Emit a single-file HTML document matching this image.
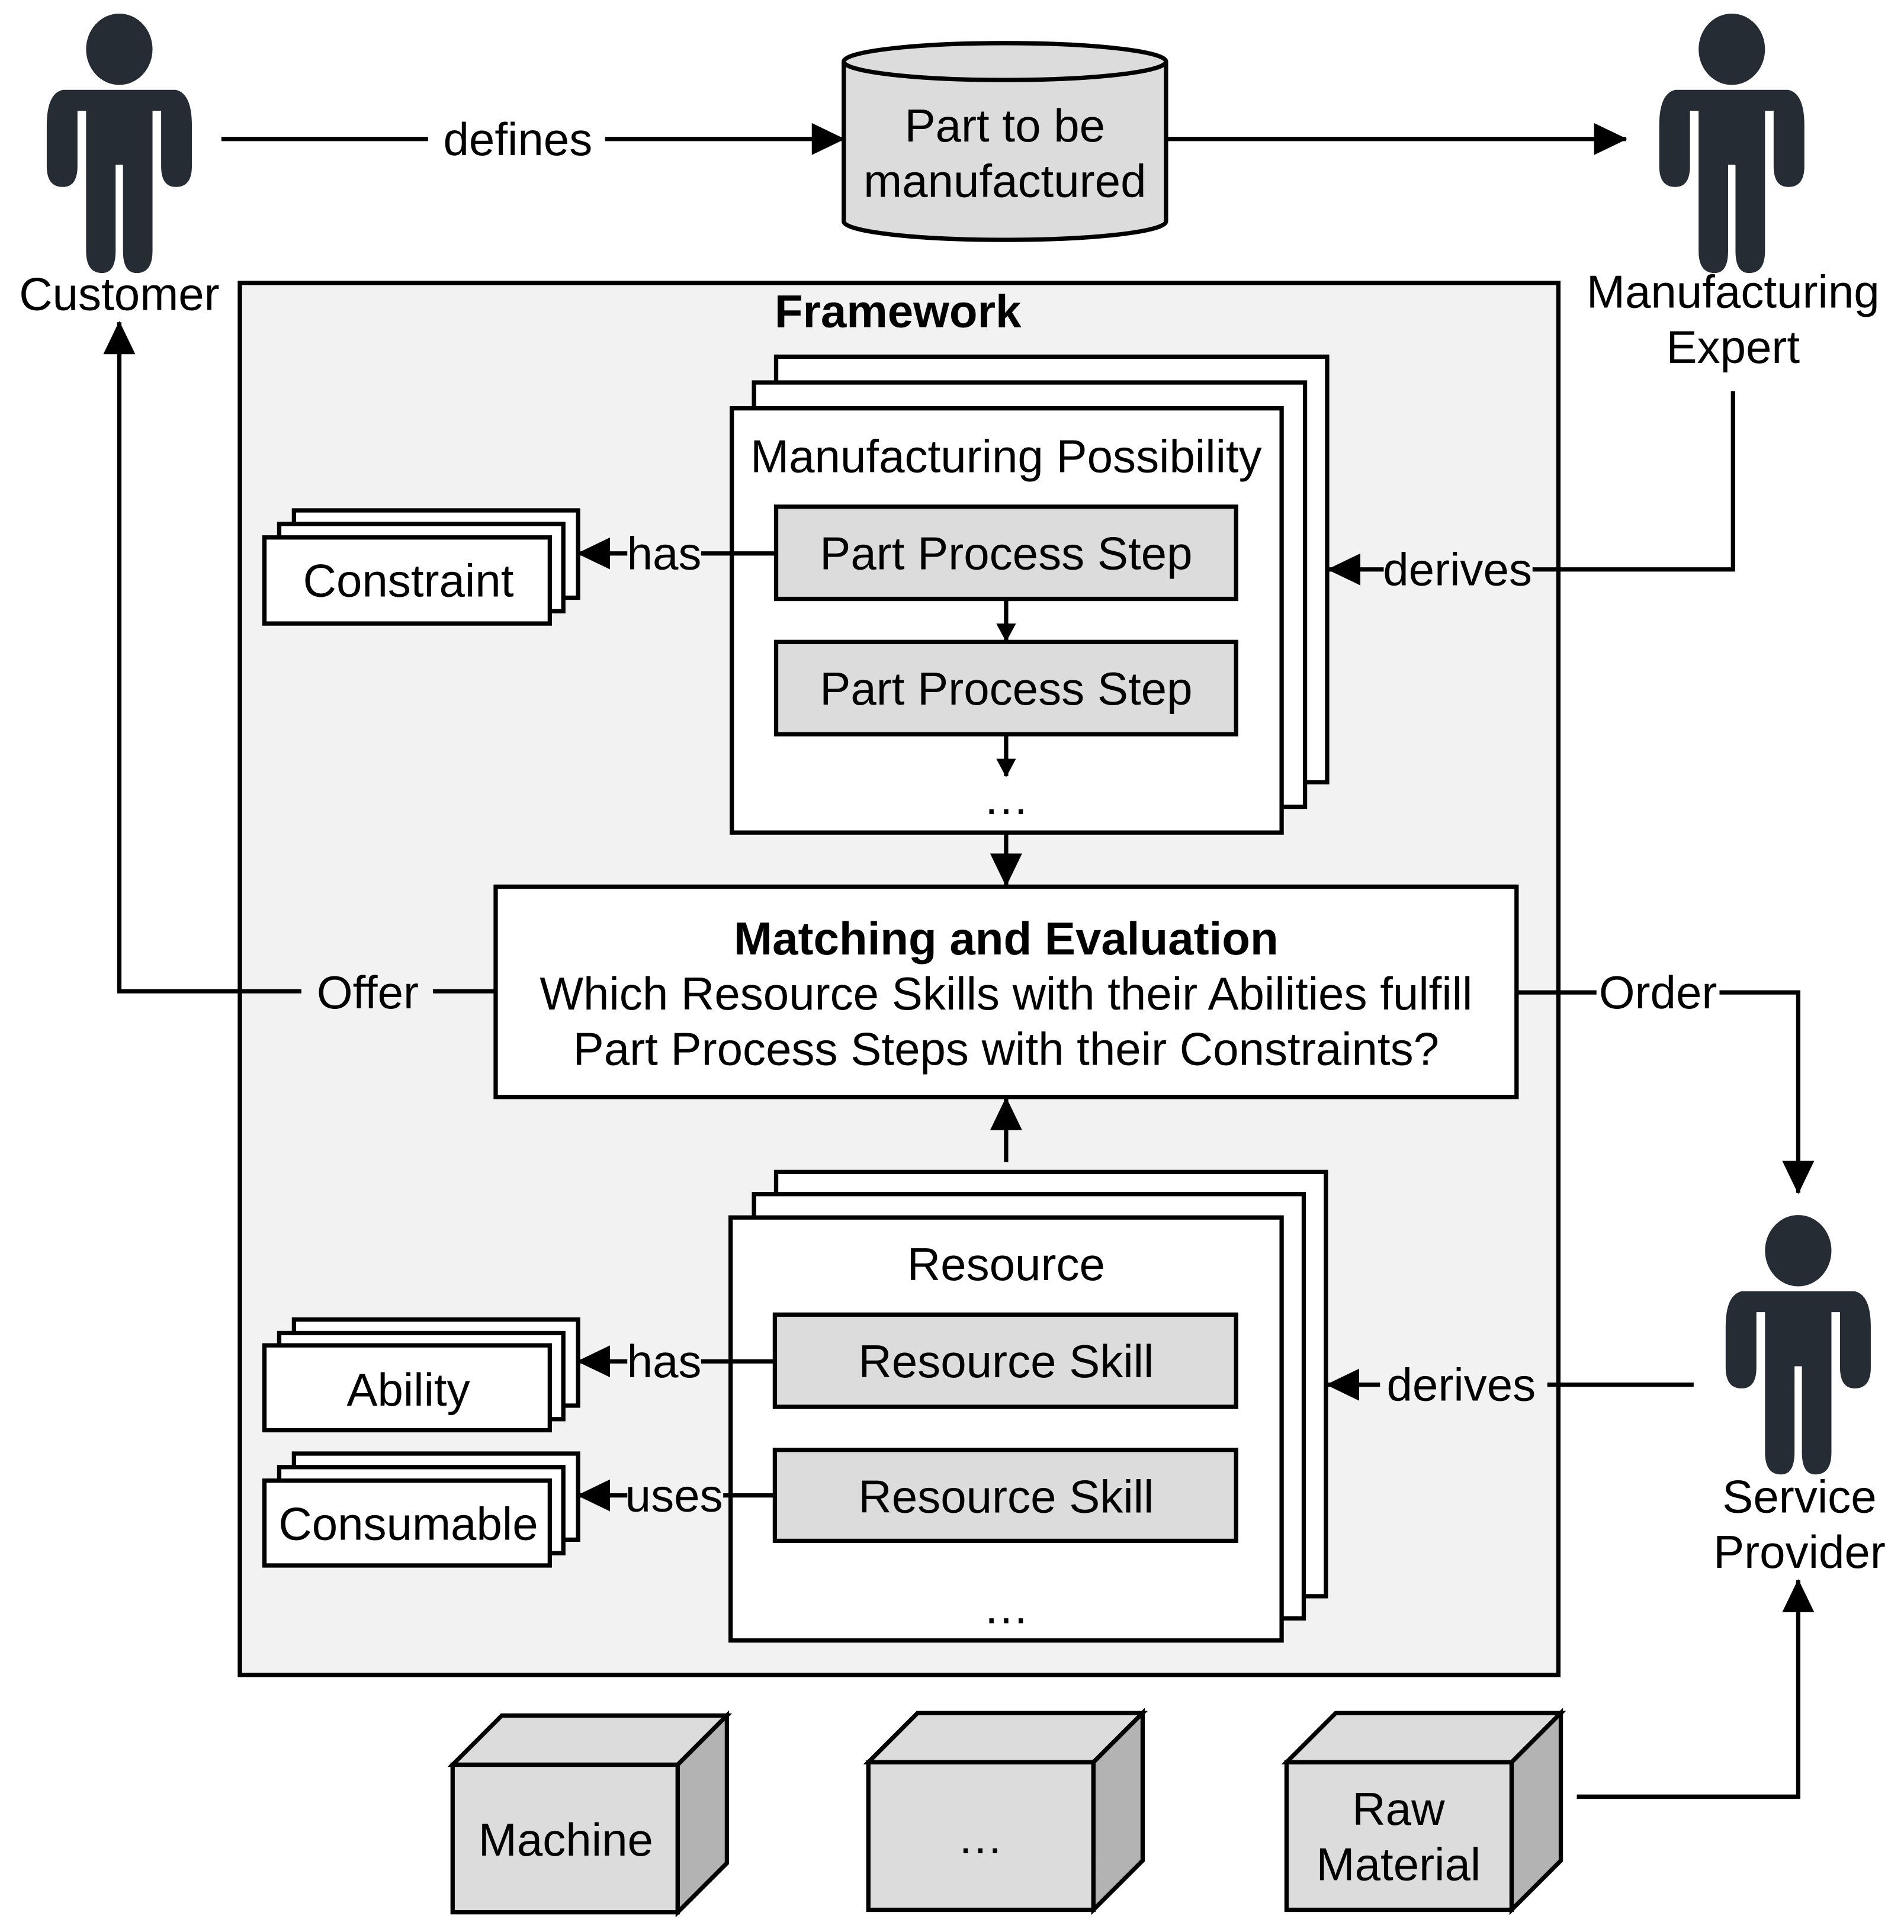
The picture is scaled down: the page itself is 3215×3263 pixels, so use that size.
<!DOCTYPE html>
<html><head><meta charset="utf-8"><style>html,body{margin:0;padding:0;background:#fff}svg{display:block}</style></head>
<body>
<svg width="3215" height="3263" viewBox="0 0 1548 1571" xmlns="http://www.w3.org/2000/svg" font-family="'Liberation Sans', Arial, sans-serif" font-size="37.6" text-anchor="middle">
<defs>
<marker id="a" markerUnits="userSpaceOnUse" markerWidth="30" markerHeight="26" refX="26" refY="13" orient="auto"><path d="M0,0 L27,13 L0,26 Z" fill="#000"/></marker>
<marker id="s" markerUnits="userSpaceOnUse" markerWidth="18" markerHeight="18" refX="14" refY="8" orient="auto"><path d="M0,0 L15,8 L0,16 Z" fill="#000"/></marker>
<g id="p" fill="#262c33">
<ellipse cx="0" cy="0" rx="27" ry="29"/>
<path d="M-46,33 H46 Q59,36 59,62 V95 Q59,112 46,112 Q34,112 34,95 V50 H27 V164 Q27,182 14,182 Q3,182 3,164 V94 H-3 V164 Q-3,182 -14,182 Q-27,182 -27,164 V50 H-34 V95 Q-34,112 -46,112 Q-59,112 -59,95 V62 Q-59,36 -46,33 Z"/>
</g>
</defs>
<g stroke="#000" stroke-width="3.5" fill="none">
<rect x="195" y="230" width="1072" height="1132" fill="#f2f2f2"/>
</g>
<use href="#p" x="97" y="40"/>
<use href="#p" x="1408" y="40"/>
<use href="#p" x="1462" y="1017"/>
<text x="97" y="252">Customer</text>
<text x="1409" y="250">Manufacturing</text>
<text x="1409" y="295">Expert</text>
<text x="1463" y="1230">Service</text>
<text x="1463" y="1275">Provider</text>
<g stroke="#000" stroke-width="3.5" fill="none">
<line x1="180" y1="113" x2="348" y2="113"/>
<line x1="492" y1="113" x2="686" y2="113" marker-end="url(#a)"/>
<line x1="948" y1="113" x2="1322" y2="113" marker-end="url(#a)"/>
<path d="M686,50 V180 A131,15 0 0 0 948,180 V50" fill="#dcdcdc"/>
<ellipse cx="817" cy="50" rx="131" ry="15" fill="#dcdcdc"/>
<polyline points="245,806 97,806 97,262" marker-end="url(#a)"/>
<line x1="352" y1="806" x2="403" y2="806"/>
<rect x="631" y="290" width="448" height="346" fill="#fff"/>
<rect x="613" y="311" width="448" height="345" fill="#fff"/>
<rect x="595" y="332" width="447" height="345" fill="#fff"/>
<rect x="631" y="412" width="374" height="75" fill="#dcdcdc"/>
<rect x="631" y="522" width="374" height="75" fill="#dcdcdc"/>
<line x1="818" y1="487" x2="818" y2="521" marker-end="url(#s)"/>
<line x1="818" y1="597" x2="818" y2="631" marker-end="url(#s)"/>
<line x1="818" y1="677" x2="818" y2="720" marker-end="url(#a)"/>
<rect x="239" y="415" width="231" height="71" fill="#fff"/>
<rect x="227" y="426" width="231" height="71" fill="#fff"/>
<rect x="215" y="437" width="232" height="70" fill="#fff"/>
<line x1="570" y1="450" x2="631" y2="450"/>
<line x1="510" y1="450" x2="470" y2="450" marker-end="url(#a)"/>
<polyline points="1409,318 1409,463 1246,463"/>
<line x1="1125" y1="463" x2="1080" y2="463" marker-end="url(#a)"/>
<rect x="403" y="721" width="830" height="171" fill="#fff"/>
<line x1="1233" y1="807" x2="1298" y2="807"/>
<polyline points="1398,807 1462,807 1462,970" marker-end="url(#a)"/>
<line x1="818" y1="945" x2="818" y2="893" marker-end="url(#a)"/>
<rect x="631" y="953" width="447" height="345" fill="#fff"/>
<rect x="613" y="971" width="447" height="345" fill="#fff"/>
<rect x="594" y="990" width="448" height="344" fill="#fff"/>
<rect x="630" y="1069" width="375" height="75" fill="#dcdcdc"/>
<rect x="630" y="1179" width="375" height="74" fill="#dcdcdc"/>
<rect x="239" y="1073" width="231" height="70" fill="#fff"/>
<rect x="227" y="1084" width="231" height="70" fill="#fff"/>
<rect x="215" y="1094" width="232" height="69" fill="#fff"/>
<rect x="239" y="1182" width="231" height="70" fill="#fff"/>
<rect x="227" y="1193" width="231" height="70" fill="#fff"/>
<rect x="215" y="1204" width="232" height="69" fill="#fff"/>
<line x1="570" y1="1107" x2="630" y2="1107"/>
<line x1="510" y1="1107" x2="470" y2="1107" marker-end="url(#a)"/>
<line x1="588" y1="1216" x2="630" y2="1216"/>
<line x1="510" y1="1216" x2="470" y2="1216" marker-end="url(#a)"/>
<line x1="1377" y1="1126" x2="1258" y2="1126"/>
<line x1="1122" y1="1126" x2="1079" y2="1126" marker-end="url(#a)"/>
<polyline points="1282,1461 1462,1461 1462,1285" marker-end="url(#a)"/>
<g fill="#dcdcdc">
<rect x="368" y="1435" width="183" height="120"/>
<path d="M368,1435 L408,1395 H591 L551,1435 Z"/>
<path d="M551,1435 L591,1395 V1515 L551,1555 Z" fill="#b3b3b3"/>
<rect x="706" y="1433" width="183" height="120"/>
<path d="M706,1433 L746,1393 H929 L889,1433 Z"/>
<path d="M889,1433 L929,1393 V1513 L889,1553 Z" fill="#b3b3b3"/>
<rect x="1046" y="1433" width="183" height="120"/>
<path d="M1046,1433 L1086,1393 H1269 L1229,1433 Z"/>
<path d="M1229,1433 L1269,1393 V1513 L1229,1553 Z" fill="#b3b3b3"/>
</g>
</g>
<text x="421" y="126">defines</text>
<text x="817" y="115">Part to be</text>
<text x="817" y="160">manufactured</text>
<text x="730" y="266" font-weight="bold">Framework</text>
<text x="299" y="820">Offer</text>
<text x="818" y="384">Manufacturing Possibility</text>
<text x="818" y="463">Part Process Step</text>
<text x="818" y="573">Part Process Step</text>
<text x="818" y="662">…</text>
<text x="332" y="485">Constraint</text>
<text x="540" y="463">has</text>
<text x="1185" y="476">derives</text>
<text x="818" y="776" font-weight="bold">Matching and Evaluation</text>
<text x="818" y="821">Which Resource Skills with their Abilities fulfill</text>
<text x="818" y="866">Part Process Steps with their Constraints?</text>
<text x="1348" y="820">Order</text>
<text x="818" y="1041">Resource</text>
<text x="818" y="1120">Resource Skill</text>
<text x="818" y="1230">Resource Skill</text>
<text x="818" y="1320">…</text>
<text x="332" y="1143">Ability</text>
<text x="332" y="1252">Consumable</text>
<text x="540" y="1120">has</text>
<text x="548" y="1229">uses</text>
<text x="1188" y="1139">derives</text>
<text x="460" y="1509">Machine</text>
<text x="797" y="1507">…</text>
<text x="1137" y="1484">Raw</text>
<text x="1137" y="1529">Material</text>
</svg>
</body></html>
